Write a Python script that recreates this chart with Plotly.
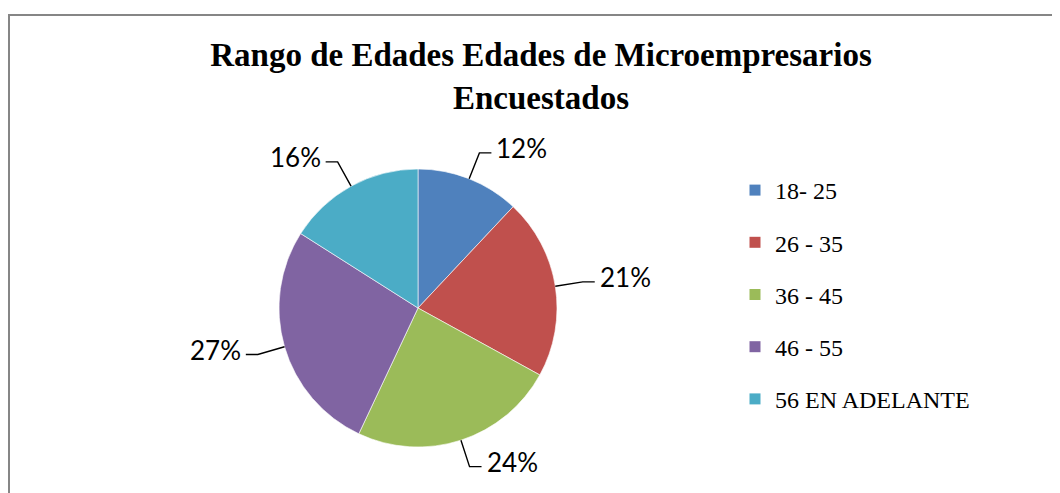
import math
import plotly.graph_objects as go

# ---- data ----
categories = ["18- 25", "26 - 35", "36 - 45", "46 - 55", "56 EN ADELANTE"]
values = [12, 21, 24, 27, 16]
colors = ["#4F81BD", "#C0504D", "#9BBB59", "#8064A2", "#4BACC6"]
title_text = "Rango de Edades Edades de Microempresarios<br>Encuestados"

W, H = 1060, 493
OFF = 8  # page body margin
# pie geometry (screen pixels)
cx, cy, R = 418, 308, 139

px = lambda x: (x - OFF) / W
py = lambda y: 1 - (y - OFF) / H

fig = go.Figure()
fig.add_trace(go.Pie(
    labels=categories, values=values, sort=False, direction="clockwise",
    rotation=0, textinfo="none", hoverinfo="label+percent",
    marker=dict(colors=colors, line=dict(color="white", width=0.6)),
    domain=dict(x=[px(cx - R), px(cx + R)], y=[py(cy + R), py(cy - R)]),
    showlegend=False,
))

# legend through dummy traces (one group each so the gap can be set)
for cat, col in zip(categories, colors):
    fig.add_trace(go.Scatter(
        x=[None], y=[None], mode="markers", name=cat, legendgroup=cat,
        marker=dict(symbol="square", size=11, color=col), showlegend=True,
    ))

# leader lines + percentage labels derived from the values
total = sum(values)
cum = 0
for v in values:
    mid = (cum + v / 2) / total * 2 * math.pi
    cum += v
    s, c = math.sin(mid), math.cos(mid)
    x0, y0 = cx + R * s, cy - R * c
    x1, y1 = cx + R * 1.2 * s, cy - R * 1.2 * c
    side = 1 if s >= 0 else -1
    x2 = x1 + side * 12
    fig.add_shape(type="path",
                  path=f"M {px(x0)} {py(y0)} L {px(x1)} {py(y1)} L {px(x2)} {py(y1)}",
                  xref="paper", yref="paper", line=dict(color="black", width=1.4))
    pct = round(v / total * 100)
    fig.add_annotation(x=px(x2 + side * 3), y=py(y1 - 5), xref="paper", yref="paper",
                       text=f"{pct}%", showarrow=False,
                       xanchor="left" if side > 0 else "right", yanchor="middle",
                       font=dict(family="Lato", size=26, color="black"))

# outer border (top and left visible)
fig.add_shape(type="rect", xref="paper", yref="paper",
              x0=px(9), y0=py(H + 30), x1=px(W + 30), y1=py(15),
              line=dict(color="#868686", width=2))

fig.update_layout(
    width=W, height=H,
    margin=dict(l=0, r=0, t=0, b=0),
    paper_bgcolor="white", plot_bgcolor="white",
    title=dict(text=title_text, x=px(541), xanchor="center", y=py(66), yanchor="middle",
               font=dict(family="Liberation Serif", size=33, color="black", weight="bold")),
    xaxis=dict(visible=False), yaxis=dict(visible=False),
    legend=dict(x=px(735), y=py(168), xanchor="left", yanchor="top",
                font=dict(family="Liberation Serif", size=24, color="black"),
                tracegroupgap=18, bgcolor="rgba(0,0,0,0)"),
)

fig.write_html("out.html")
